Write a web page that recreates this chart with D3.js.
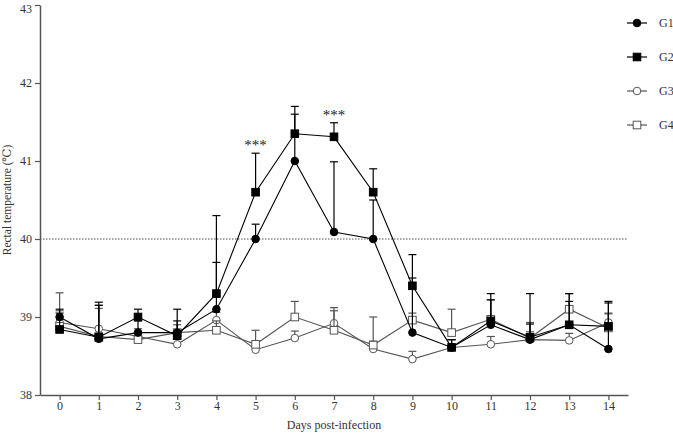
<!DOCTYPE html>
<html>
<head>
<meta charset="utf-8">
<script src="https://d3js.org/d3.v7.min.js"></script>
<style>
  body { margin: 0; background: #fff; }
  svg text { font-family: "Liberation Serif", "Times New Roman", "DejaVu Serif", serif !important; }
</style>
</head>
<body>
<div id="chart"></div>
<script>
// days post-infection
var days = [0, 1, 2, 3, 4, 5, 6, 7, 8, 9, 10, 11, 12, 13, 14];
var groups = ["G1", "G2", "G3", "G4"];

// mean rectal temperature per group
var g1 = [39.0, 38.72, 38.8, 38.8, 39.1, 40.0, 41.0, 40.09, 40.0, 38.8, 38.61, 38.9, 38.71, 38.9, 38.59];
var g2 = [38.84, 38.74, 39.0, 38.76, 39.3, 40.6, 41.35, 41.31, 40.6, 39.4, 38.61, 38.95, 38.74, 38.9, 38.88];
var g3 = [38.93, 38.85, 38.75, 38.65, 38.96, 38.58, 38.73, 38.92, 38.59, 38.46, 38.61, 38.65, 38.71, 38.7, 38.93];
var g4 = [38.88, 38.75, 38.71, 38.8, 38.83, 38.65, 39.0, 38.83, 38.64, 38.96, 38.8, 38.97, 38.73, 39.1, 38.86];

// upper error (SD) per group
var g1err = [0.1, 0.43, 0.15, 0.15, 0.6, 0.19, 0.6, 0.9, 0.5, 0.7, 0.1, 0.32, 0.2, 0.3, 0.61];
var g2err = [0.21, 0.45, 0.1, 0.34, 1.0, 0.5, 0.35, 0.18, 0.3, 0.4, 0.1, 0.35, 0.56, 0.4, 0.3];
var g3err = [0.38, 0.3, 0.1, 0.1, 0.1, 0.1, 0.09, 0.2, 0.1, 0.1, 0.1, 0.1, 0.1, 0.09, 0.12];
var g4err = [0.2, 0.36, 0.1, 0.1, 0.12, 0.18, 0.2, 0.25, 0.36, 0.09, 0.3, 0.25, 0.2, 0.2, 0.18];

var yTicks = [38, 39, 40, 41, 42, 43];
var threshold = 40;
var sigDays = [5, 7];

var W = 673, H = 433;
var svg = d3.select("#chart").append("svg").attr("width", W).attr("height", H)
  .attr("font-family", "Liberation Serif, serif");

var x = d3.scaleLinear().domain([-0.5, 14.5]).range([40, 628]);
var y = d3.scaleLinear().domain([38, 43]).range([395, 5]);

var series = [
  { name: "G1", vals: g1, err: g1err, shape: "circle", fill: "#000", stroke: "#000" },
  { name: "G2", vals: g2, err: g2err, shape: "square", fill: "#000", stroke: "#000" },
  { name: "G3", vals: g3, err: g3err, shape: "circle", fill: "#fff", stroke: "#555" },
  { name: "G4", vals: g4, err: g4err, shape: "square", fill: "#fff", stroke: "#555" }
];

// threshold line
svg.append("line")
  .attr("x1", x(-0.5)).attr("x2", x(14.5))
  .attr("y1", y(threshold)).attr("y2", y(threshold))
  .attr("stroke", "#222").attr("stroke-width", 0.8)
  .attr("stroke-dasharray", "1.5,1.5");

// axes
var xAxis = svg.append("g").attr("transform", "translate(0," + y(38) + ")")
  .call(d3.axisBottom(x).tickValues(days).tickSize(5).tickPadding(1).tickSizeOuter(0).tickFormat(d3.format("d")));
var yAxis = svg.append("g").attr("transform", "translate(" + x(-0.5) + ",0)")
  .call(d3.axisLeft(y).tickValues(yTicks).tickSize(5).tickSizeOuter(0).tickFormat(d3.format("d")));
[xAxis, yAxis].forEach(function (a) {
  a.attr("font-family", null);
  a.select(".domain").attr("stroke", "#555").attr("stroke-width", 1.5);
  a.selectAll(".tick line").attr("stroke", "#555").attr("stroke-width", 1.2);
  a.selectAll(".tick text").style("font-size", "12px").attr("fill", "#333");
});
// keep the top label inside the picture
yAxis.selectAll(".tick text").filter(function (d) { return d === 43; }).attr("dy", "0.6em");

function marker(g, s, cx, cy) {
  if (s.shape === "circle") {
    g.append("circle").attr("cx", cx).attr("cy", cy).attr("r", 3.8)
      .attr("fill", s.fill).attr("stroke", s.stroke).attr("stroke-width", 1);
  } else {
    g.append("rect").attr("x", cx - 3.8).attr("y", cy - 3.8).attr("width", 7.6).attr("height", 7.6)
      .attr("fill", s.fill).attr("stroke", s.stroke).attr("stroke-width", 1);
  }
}

var line = d3.line().x(function (d, i) { return x(days[i]); }).y(function (d) { return y(d); });

// draw grey groups first, then black
[2, 3, 0, 1].forEach(function (k) {
  var s = series[k];
  var g = svg.append("g");
  // error bars (upper only)
  s.vals.forEach(function (v, i) {
    var cx = x(days[i]), top = y(v + s.err[i]);
    g.append("line").attr("x1", cx).attr("x2", cx).attr("y1", y(v)).attr("y2", top)
      .attr("stroke", s.stroke).attr("stroke-width", 1.2);
    g.append("line").attr("x1", cx - 4).attr("x2", cx + 4).attr("y1", top).attr("y2", top)
      .attr("stroke", s.stroke).attr("stroke-width", 1.2);
  });
  g.append("path").datum(s.vals).attr("d", line)
    .attr("fill", "none").attr("stroke", s.stroke).attr("stroke-width", 1.1);
  s.vals.forEach(function (v, i) { marker(g, s, x(days[i]), y(v)); });
});

// significance marks
sigDays.forEach(function (d) {
  var top = Math.max(g1[d] + g1err[d], g2[d] + g2err[d]);
  svg.append("text").attr("x", x(d)).attr("y", y(top) - 3)
    .attr("text-anchor", "middle").style("font-size", "15px").attr("fill", "#222")
    .text("***");
});

// legend
var lg = svg.append("g");
series.forEach(function (s, i) {
  var ly = 23 + i * 34;
  lg.append("line").attr("x1", 627).attr("x2", 647).attr("y1", ly).attr("y2", ly)
    .attr("stroke", s.stroke).attr("stroke-width", 1.2);
  marker(lg, s, 637, ly);
  lg.append("text").attr("x", 659).attr("y", ly + 4).style("font-size", "12px").attr("fill", "#333").text(s.name);
});

// axis titles
svg.append("text").attr("x", x(7)).attr("y", 429).attr("text-anchor", "middle")
  .style("font-size", "12px").attr("fill", "#333").text("Days post-infection");
svg.append("text").attr("transform", "translate(11," + y(40.5) + ") rotate(-90)")
  .attr("text-anchor", "middle").style("font-size", "11.5px").attr("fill", "#333")
  .text("Rectal temperature (℃)");
</script>
</body>
</html>
